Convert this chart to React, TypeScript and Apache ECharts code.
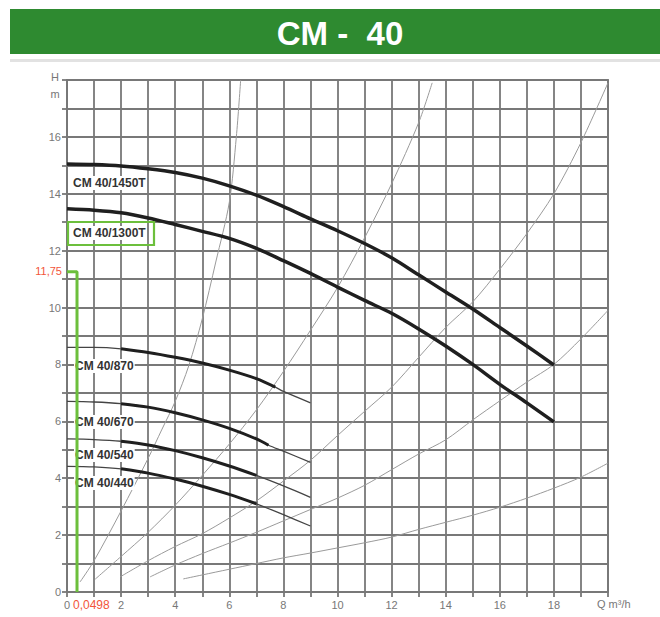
import React, { useEffect, useRef } from "react";
import * as echarts from "echarts";

// ---- axis ranges / ticks ----
const X_MAX = 20;
const Y_MAX = 18;
const X_LABEL_STEP = 2;
const Y_LABEL_STEP = 2;

// ---- pump curves (Q m3/h, H m) ----
const c1450T: number[][] = [[0,15.05],[1,15.03],[2,14.98],[3,14.88],[4,14.75],[5,14.55],[6,14.28],[7,13.95],[8,13.55],[9,13.12],[10,12.7],[11,12.25],[12,11.75],[13,11.15],[14,10.55],[15,9.95],[16,9.3],[17,8.65],[18,7.98]];
const c1300T: number[][] = [[0,13.47],[1,13.42],[2,13.33],[3,13.15],[4,12.92],[5,12.68],[6,12.43],[7,12.08],[8,11.65],[9,11.2],[10,10.72],[11,10.25],[12,9.8],[13,9.25],[14,8.65],[15,8.0],[16,7.3],[17,6.65],[18,5.98]];
const c870: number[][] = [[0,8.6],[1,8.6],[2,8.55],[3,8.42],[4,8.25],[5,8.05],[6,7.8],[7,7.5],[7.7,7.2],[8,7.05],[9,6.65]];
const c670: number[][] = [[0,6.7],[1,6.68],[2,6.62],[3,6.5],[4,6.3],[5,6.05],[6,5.75],[7,5.38],[7.45,5.16],[8,4.95],[9,4.56]];
const c540: number[][] = [[0,5.38],[1,5.36],[2,5.3],[3,5.17],[4,4.97],[5,4.72],[6,4.43],[7,4.1],[8,3.73],[9,3.33]];
const c440: number[][] = [[0,4.42],[1,4.4],[2,4.33],[3,4.18],[4,3.97],[5,3.72],[6,3.43],[7,3.1],[8,2.72],[9,2.32]];
const thickEnd = { c870: 7.7, c670: 7.45, c540: 7, c440: 7 };

// ---- system (resistance) curves ----
const sysA: number[][] = [[0.48,0.35],[1,1.1],[2,2.85],[3,4.7],[3.5,5.7],[4,6.7],[4.5,7.95],[5,9.6],[5.5,11.6],[6,13.7],[6.26,16],[6.42,18]];
const sysB: number[][] = [[1.04,0.45],[2,1.25],[3,2.1],[4,3.05],[5,4.1],[6,5.2],[7,6.4],[8,7.75],[9,9.2],[10,10.7],[11,12.45],[12,14.35],[13,16.5],[13.5,17.9]];
const sysD: number[][] = [[1.96,0.53],[3,1.1],[4,1.6],[5,2.05],[6,2.6],[7,3.2],[8,3.9],[9,4.63],[10,5.5],[11,6.35],[12,7.2],[13,8.25],[14,9.3],[15,10.2],[16,11.35],[17,12.6],[18,14.0],[19,15.8],[20,17.9]];
const sysC: number[][] = [[3.07,0.53],[4,0.95],[5,1.35],[6,1.72],[7,2.1],[8,2.5],[9,2.9],[10,3.3],[11,3.75],[12,4.3],[13,4.85],[14,5.35],[15,6.05],[16,6.72],[17,7.38],[18,8.0],[19,8.9],[20,9.9]];
const sysE: number[][] = [[4.3,0.46],[5,0.6],[6,0.8],[7,1.0],[8,1.2],[9,1.37],[10,1.55],[11,1.73],[12,1.93],[13,2.2],[14,2.45],[15,2.7],[16,2.98],[17,3.3],[18,3.65],[19,4.04],[20,4.53]];

// ---- annotation (green marker) ----
const markerPath: number[][] = [[0,11.26],[0.37,11.26],[0.37,0]];
const markerH = "11,75";
const markerQ = "0,0498";

const TITLE = "CM -  40";
const pumpLabels = ["CM 40/1450T", "CM 40/1300T", "CM 40/870", "CM 40/670", "CM 40/540", "CM 40/440"];

const GRID = { left: 67, top: 80, right: 52, bottom: 25 };
const GRID_COLOR = "#787878";
const FONT = "Liberation Sans";

function split(points: number[][], end: number, start = 1.2) {
  return points.filter((p) => p[0] >= start && p[0] <= end);
}

export default function App() {
  const ref = useRef<HTMLDivElement>(null);
  useEffect(() => {
    if (!ref.current) return;
    const chart = echarts.init(ref.current, undefined, { renderer: "svg" });

    const sysStyle = { color: "#9a9a9a", width: 1 };
    const sys = [sysA, sysB, sysD, sysC, sysE].map((d) => ({
      type: "line", data: d, showSymbol: false, smooth: 0.3, silent: true, z: 2,
      lineStyle: sysStyle,
    }));
    const big = [c1450T, c1300T].map((d) => ({
      type: "line", data: d, showSymbol: false, smooth: 0.3, silent: true, z: 4,
      lineStyle: { color: "#1f1f1f", width: 3.5 },
    }));
    const smallSets: [number[][], number][] = [
      [c870, thickEnd.c870], [c670, thickEnd.c670], [c540, thickEnd.c540], [c440, thickEnd.c440],
    ];
    const smallThin = smallSets.map(([d]) => ({
      type: "line", data: d, showSymbol: false, smooth: 0.3, silent: true, z: 3,
      lineStyle: { color: "#444", width: 1.3 },
    }));
    const smallThick = smallSets.map(([d, e]) => ({
      type: "line", data: split(d, e), showSymbol: false, smooth: 0.3, silent: true, z: 4,
      lineStyle: { color: "#1f1f1f", width: 3 },
    }));
    const marker = {
      type: "line", data: markerPath, showSymbol: false, silent: true, clip: false, z: 20,
      lineStyle: { color: "#6cbf3c", width: 3 },
    };

    const axisCommon = {
      type: "value",
      interval: 1,
      axisLine: { show: true, lineStyle: { color: GRID_COLOR, width: 1.8 } },
      axisTick: { show: true, length: 5, lineStyle: { color: GRID_COLOR, width: 1.8 } },
      splitLine: { show: true, lineStyle: { color: GRID_COLOR, width: 1.8 } },
    };

    const lbl = (text: string, x: number, y: number, size = 12) => ({
      type: "text", x, y, z: 8,
      style: {
        text, fill: "#333", fontSize: size, fontWeight: "bold", fontFamily: FONT,
        align: "left", verticalAlign: "middle", backgroundColor: "#fff", padding: [1, 1],
      },
    });

    chart.setOption({
      animation: false,
      backgroundColor: "#fff",
      grid: { ...GRID, show: true, borderColor: GRID_COLOR, borderWidth: 1.8, backgroundColor: "#fff" },
      xAxis: {
        ...axisCommon, min: 0, max: X_MAX,
        axisLabel: {
          formatter: (v: number) => (v % X_LABEL_STEP === 0 && v < X_MAX ? String(v) : ""),
          color: "#777", fontSize: 11, margin: 7, fontFamily: FONT,
        },
      },
      yAxis: {
        ...axisCommon, min: 0, max: Y_MAX,
        axisLabel: {
          formatter: (v: number) => (v % Y_LABEL_STEP === 0 && v < Y_MAX ? String(v) : ""),
          color: "#777", fontSize: 11, margin: 6, fontFamily: FONT,
        },
      },
      series: [...sys, ...smallThin, ...big, ...smallThick, marker],
      graphic: [
        { type: "rect", shape: { x: 10, y: 9, width: 650, height: 45 }, style: { fill: "#2e8a30" } },
        { type: "rect", shape: { x: 10, y: 59, width: 650, height: 3 }, style: { fill: "#e2e2e2" } },
        {
          type: "text", x: 340, y: 33,
          style: { text: TITLE, fill: "#fff", fontSize: 33, fontWeight: "bold", fontFamily: FONT, align: "center", verticalAlign: "middle" },
        },
        { type: "text", x: 55, y: 77, style: { text: "H", fill: "#777", fontSize: 11, fontFamily: FONT, align: "center", verticalAlign: "middle" } },
        { type: "text", x: 55, y: 94, style: { text: "m", fill: "#777", fontSize: 11, fontFamily: FONT, align: "center", verticalAlign: "middle" } },
        { type: "text", x: 597, y: 604, style: { text: "Q m³/h", fill: "#777", fontSize: 11, fontFamily: FONT, align: "left", verticalAlign: "middle" } },
        lbl(pumpLabels[0], 72, 183),
        lbl(pumpLabels[1], 72, 233),
        lbl(pumpLabels[2], 74, 366),
        lbl(pumpLabels[3], 74, 422),
        lbl(pumpLabels[4], 74, 455),
        lbl(pumpLabels[5], 74, 483),
        { type: "rect", z: 11, shape: { x: 68, y: 222, width: 86, height: 23 }, style: { fill: "none", stroke: "#6cbf3c", lineWidth: 2.2 } },
        { type: "text", x: 62, y: 271, z: 11, style: { text: markerH, fill: "#f2553a", fontSize: 11, fontFamily: FONT, align: "right", verticalAlign: "middle" } },
        { type: "text", x: 73, y: 605, z: 11, style: { text: markerQ, fill: "#f2553a", fontSize: 12, fontFamily: FONT, align: "left", verticalAlign: "middle", backgroundColor: "#fff" } },
      ],
    });
    return () => chart.dispose();
  }, []);
  return <div ref={ref} style={{ position: "fixed", left: 0, top: 0, width: 660, height: 617, background: "#fff" }} />;
}
